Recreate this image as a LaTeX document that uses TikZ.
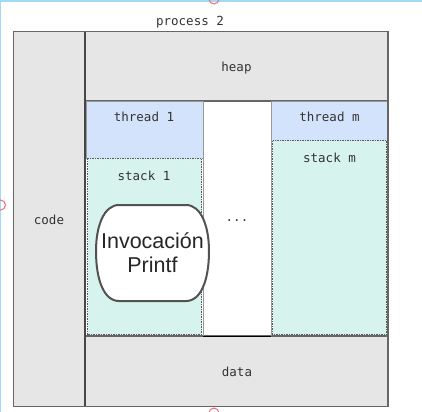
\documentclass[tikz,border=0pt]{standalone}
\usepackage{fontspec}
\setmainfont{Liberation Sans}
\newfontfamily\monof{DejaVu Sans Mono}
\definecolor{gfill}{HTML}{E6E6E6}
\definecolor{tfill}{HTML}{D4E3FC}
\definecolor{sfill}{HTML}{D7F3ED}
\definecolor{edge}{HTML}{666666}
\definecolor{txt}{HTML}{333333}
\definecolor{selblue}{HTML}{A3D9F7}
\definecolor{handle}{HTML}{E8707A}
\begin{document}
\begin{tikzpicture}[x=1bp,y=-1bp,
  lbl/.style={font=\monof\fontsize{12.5bp}{14bp}\selectfont, text=txt, inner sep=0pt, anchor=base},
  region/.style={fill=gfill, draw=edge, line width=1.5bp},
  thr/.style={fill=tfill, draw=gray!80, line width=0.8bp},
  stk/.style={fill=sfill, draw=gray!70!black, line width=1bp, dash pattern=on 1.5bp off 1bp},
  bubble/.style={fill=white, draw=edge!80!black, line width=2bp}]
\useasboundingbox (0,0) rectangle (422,412);
\fill[white] (0,0) rectangle (422,412);
% selection frame of the screenshot
\draw[selblue, line width=2bp] (0,0.5) -- (422,0.5);
\draw[selblue, line width=2bp] (0.5,0) -- (0.5,412);
\draw[handle, line width=1bp] (214,-1) circle (5);
\draw[handle, line width=1bp] (0.5,205) circle (5);
\draw[handle, line width=1bp] (214,413) circle (5);
% regions
\path[region] (13.5,31.5) rectangle (85,406.5);
\path[region] (85,31.5) rectangle (388,101);
\path[region] (85,336) rectangle (388,406.5);
\path[thr] (86,101) rectangle (203,158);
\path[thr] (271,101) rectangle (388,141);
\path[stk] (87.5,158) rectangle (201.5,334.5);
\path[stk] (272.5,140.5) rectangle (386.5,334.5);
\draw[black, line width=1bp] (203,336) -- (271,336);
\draw[gray!80, line width=0.8bp] (203,101) -- (203,336);
\draw[gray!80, line width=0.8bp] (271,101) -- (271,336);
\draw[edge!70!black, line width=2bp] (85,31.5) -- (85,406.5);
\draw[edge, line width=1.5bp] (13.5,31.5) rectangle (388,406.5);
% labels
\node[lbl] (proc) at (190,25.5) {process 2};
\node[lbl] (heap) at (236.5,71) {heap};
\node[lbl] (code) at (49,224) {code};
\node[lbl] (data) at (237,376.5) {data};
\node[lbl] (t1) at (144,121.5) {thread 1};
\node[lbl] (tm) at (329.5,121.5) {thread m};
\node[lbl] (s1) at (144,180.5) {stack 1};
\node[lbl] (sm) at (329.5,162.5) {stack m};
\node[lbl] (dots) at (237,221) {...};
% call bubble
\draw[bubble] (119,205) -- (186,205) .. controls (201,205) and (209,226) .. (209,251)
  .. controls (209,280) and (201,301) .. (186,301) -- (119,301)
  .. controls (104,301) and (96,280) .. (96,251)
  .. controls (96,226) and (104,205) .. (119,205) -- cycle;
\node[font=\fontsize{21.5bp}{24bp}\selectfont, text=black!85, align=center, inner sep=0pt, anchor=base] (inv) at (152.5,272) {Invocación\\Printf};
\end{tikzpicture}
\end{document}
